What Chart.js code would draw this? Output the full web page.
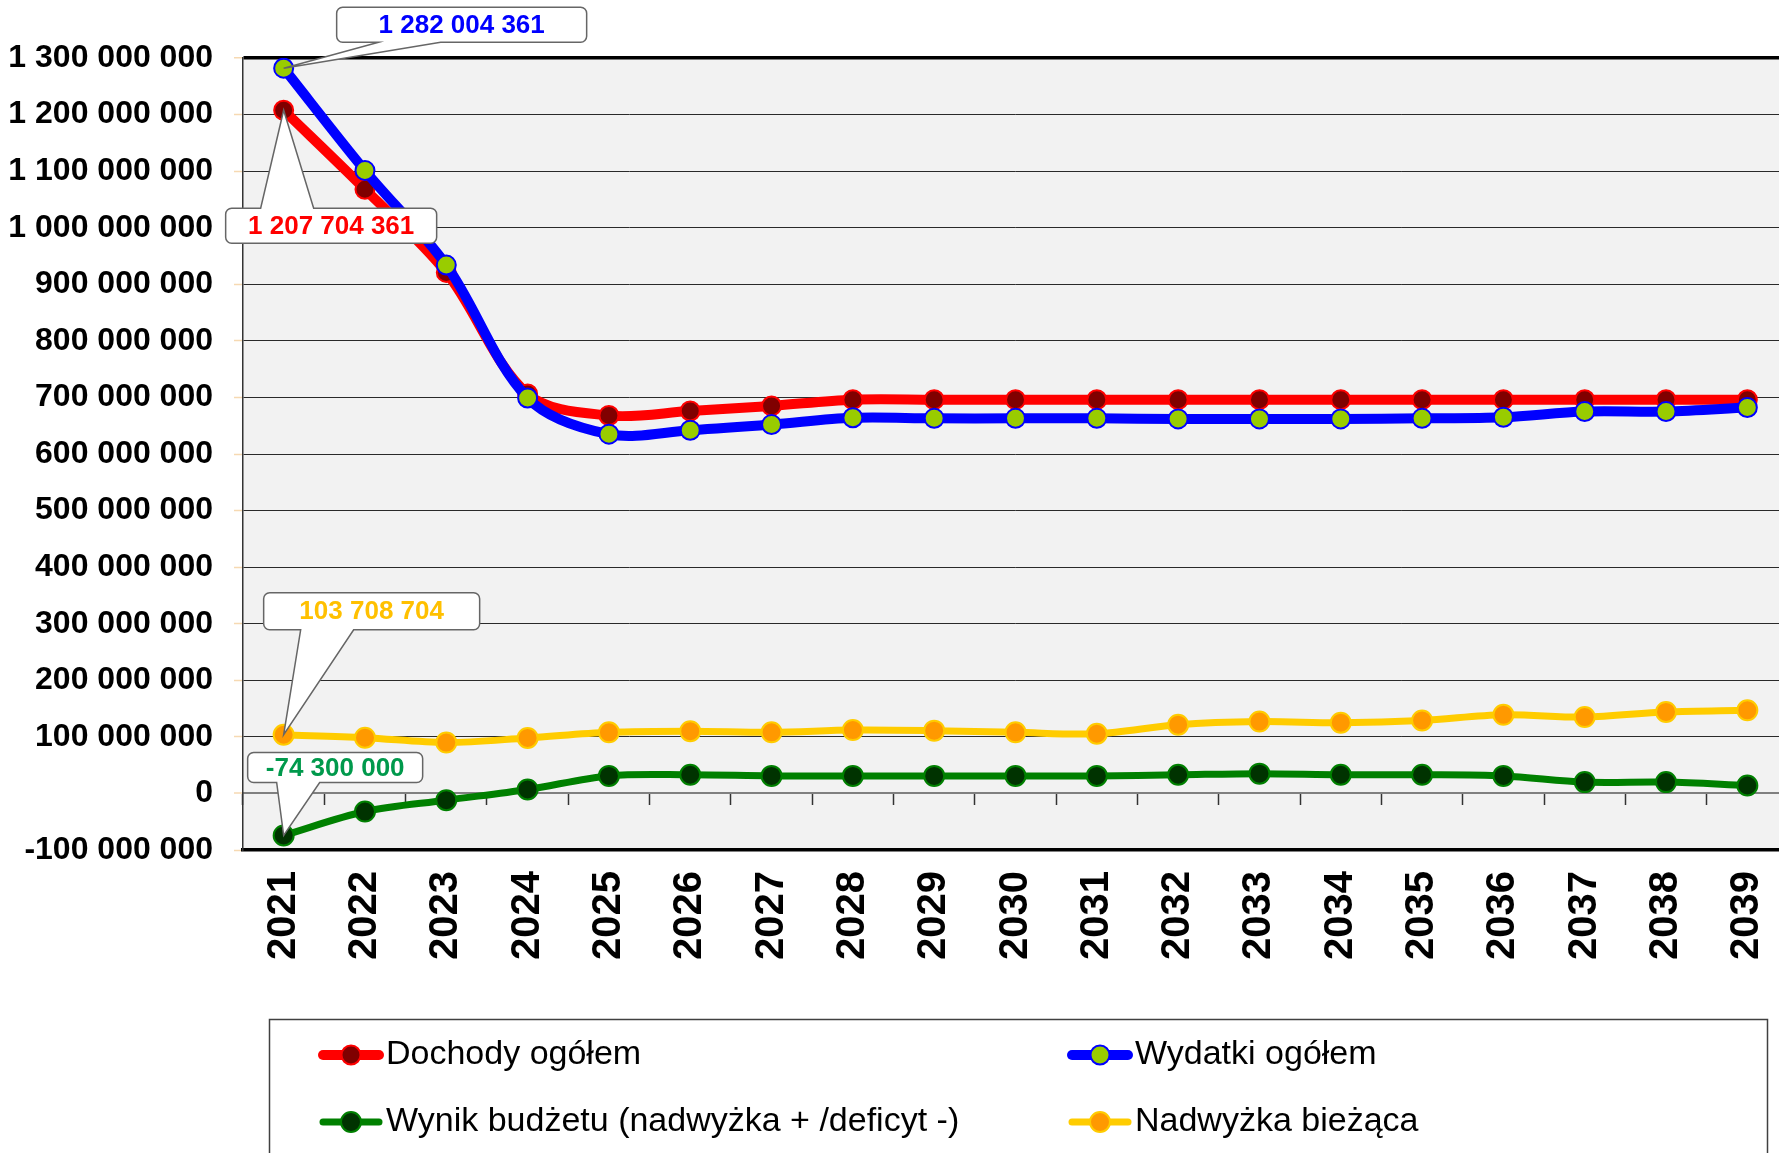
<!DOCTYPE html>
<html>
<head>
<meta charset="utf-8">
<title>Dochody i wydatki 2021-2039</title>
<script src="https://cdn.jsdelivr.net/npm/chart.js@4.4.1/dist/chart.umd.min.js"></script>
<style>
  html, body { margin: 0; padding: 0; background: #fff; overflow: hidden; }
  #chart { display: block; }
</style>
</head>
<body>
<canvas id="chart" width="1800" height="1153"></canvas>
<script>
const years = [
  "2021", "2022", "2023", "2024", "2025", "2026", "2027", "2028", "2029", "2030",
  "2031", "2032", "2033", "2034", "2035", "2036", "2037", "2038", "2039",
];

const dochody = [
  1207704361, 1068000000, 921000000, 706000000, 668000000, 676000000, 685000000,
  696000000, 696000000, 696000000, 696000000, 696000000, 696000000, 696000000,
  696000000, 696000000, 696000000, 696000000, 696000000,
];

const wydatki = [
  1282004361, 1101000000, 934000000, 699000000, 635000000, 642000000, 652000000,
  664000000, 663000000, 663000000, 663000000, 662000000, 662000000, 662000000,
  663000000, 665000000, 675000000, 675000000, 682000000,
];

const wynik = [
  -74300000, -32000000, -12000000, 7000000, 31000000, 33000000, 31000000,
  31000000, 31000000, 31000000, 31000000, 33000000, 35000000, 33000000,
  33000000, 31000000, 20000000, 20000000, 14000000,
];

const nadwyzka = [
  103708704, 98500000, 90000000, 98000000, 108000000, 110000000, 108000000,
  112000000, 111000000, 108000000, 105500000, 121500000, 127000000, 125000000,
  129000000, 139000000, 135000000, 144000000, 147000000,
];

const Y_MIN = -100000000;
const Y_MAX = 1300000000;
const Y_STEP = 100000000;

const FONT = "'Liberation Sans', Arial, sans-serif";
Chart.defaults.font.family = FONT;

function formatNum(v) {
  const s = Math.round(Math.abs(v)).toString().replace(/\B(?=(\d{3})+(?!\d))/g, " ");
  return (v < 0 ? "-" : "") + s;
}

// callout boxes for the first point of each series (offsets from the point)
const callouts = [
  { ds: 0, color: "#FF0000", dx: -58, dy: 98, w: 211, h: 35, side: "top", base: [35, 88] },
  { ds: 1, color: "#0000FF", dx: 53, dy: -61, w: 250, h: 35, side: "bottom", base: [42, 104] },
  { ds: 2, color: "#00994C", dx: -36, dy: -83, w: 175, h: 30, side: "bottom", base: [29, 72] },
  { ds: 3, color: "#FFC000", dx: -20, dy: -142, w: 216, h: 37, side: "bottom", base: [37, 90] },
];

// legend layout: [dataset index, symbol centre x, row y]
const legendSlots = [
  [0, 351, 1055],
  [1, 1100, 1055],
  [2, 351, 1122],
  [3, 1100, 1122],
];

const plotBackground = {
  id: "plotBackground",
  beforeDraw(chart) {
    const { ctx, chartArea: a } = chart;
    ctx.save();
    ctx.fillStyle = "#F2F2F2";
    ctx.fillRect(a.left, a.top, a.right - a.left, a.bottom - a.top);
    ctx.restore();
  },
};

function roundedCallout(ctx, x, y, w, h, r, side, b1, b2, ax, ay) {
  ctx.beginPath();
  ctx.moveTo(x + r, y);
  if (side === "top") {
    ctx.lineTo(x + b1, y);
    ctx.lineTo(ax, ay);
    ctx.lineTo(x + b2, y);
  }
  ctx.lineTo(x + w - r, y);
  ctx.arcTo(x + w, y, x + w, y + r, r);
  ctx.lineTo(x + w, y + h - r);
  ctx.arcTo(x + w, y + h, x + w - r, y + h, r);
  if (side === "bottom") {
    ctx.lineTo(x + b2, y + h);
    ctx.lineTo(ax, ay);
    ctx.lineTo(x + b1, y + h);
  }
  ctx.lineTo(x + r, y + h);
  ctx.arcTo(x, y + h, x, y + h - r, r);
  ctx.lineTo(x, y + r);
  ctx.arcTo(x, y, x + r, y, r);
  ctx.closePath();
}

const calloutPlugin = {
  id: "callouts",
  afterDatasetsDraw(chart) {
    const ctx = chart.ctx;
    ctx.save();
    callouts.forEach((c) => {
      const pt = chart.getDatasetMeta(c.ds).data[0];
      const value = chart.data.datasets[c.ds].data[0];
      const bx = pt.x + c.dx;
      const by = pt.y + c.dy;
      roundedCallout(ctx, bx, by, c.w, c.h, 6, c.side, c.base[0], c.base[1], pt.x, pt.y);
      ctx.fillStyle = "#FFFFFF";
      ctx.fill();
      ctx.lineWidth = 1.5;
      ctx.strokeStyle = "#666666";
      ctx.stroke();
      ctx.fillStyle = c.color;
      ctx.font = "bold 26px " + FONT;
      ctx.textAlign = "center";
      ctx.textBaseline = "middle";
      ctx.fillText(formatNum(value), bx + c.w / 2, by + c.h / 2 + 1);
    });
    ctx.restore();
  },
};

const legendPlugin = {
  id: "boxLegend",
  afterDraw(chart) {
    const ctx = chart.ctx;
    ctx.save();
    ctx.lineWidth = 1.5;
    ctx.strokeStyle = "#404040";
    ctx.strokeRect(269.5, 1019.5, 1498, 200);
    legendSlots.forEach(([i, cx, cy]) => {
      const ds = chart.data.datasets[i];
      ctx.beginPath();
      ctx.moveTo(cx - 28, cy);
      ctx.lineTo(cx + 28, cy);
      ctx.lineWidth = ds.borderWidth;
      ctx.strokeStyle = ds.borderColor;
      ctx.lineCap = "round";
      ctx.stroke();
      ctx.beginPath();
      ctx.arc(cx, cy, ds.pointRadius, 0, Math.PI * 2);
      ctx.fillStyle = ds.pointBackgroundColor;
      ctx.fill();
      ctx.lineWidth = ds.pointBorderWidth;
      ctx.strokeStyle = ds.pointBorderColor;
      ctx.stroke();
      ctx.fillStyle = "#000";
      ctx.font = "34px " + FONT;
      ctx.textAlign = "left";
      ctx.textBaseline = "middle";
      ctx.fillText(ds.label, cx + 35, cy);
    });
    ctx.restore();
  },
};

function series(label, data, line, fill, border, width, radius, order) {
  return {
    label,
    data,
    order,
    borderColor: line,
    borderWidth: width,
    pointBackgroundColor: fill,
    pointBorderColor: border,
    pointBorderWidth: 2,
    pointRadius: radius,
    pointHoverRadius: radius,
    tension: 0.33,
    fill: false,
  };
}

const ctx = document.getElementById("chart").getContext("2d");
const chart = new Chart(ctx, {
  type: "line",
  data: {
    labels: years,
    datasets: [
      series("Dochody ogółem", dochody, "#FF0000", "#800000", "#FF0000", 10, 9.5, 1),
      series("Wydatki ogółem", wydatki, "#0000FF", "#99CC00", "#0000FF", 10, 9.5, 0),
      series("Wynik budżetu (nadwyżka + /deficyt -)", wynik, "#008000", "#003300", "#008000", 7, 10, 2),
      series("Nadwyżka bieżąca", nadwyzka, "#FFCC00", "#FF9900", "#FFCC00", 7, 10, 3),
    ],
  },
  options: {
    responsive: false,
    animation: false,
    devicePixelRatio: 1,
    layout: { padding: { top: 58, left: 0, right: 9, bottom: 0 } },
    plugins: {
      legend: { display: false },
      tooltip: { enabled: false },
    },
    scales: {
      x: {
        offset: true,
        grid: { display: false },
        border: { color: "#000", width: 3.5 },
        ticks: {
          color: "#000",
          font: { size: 40, weight: "bold" },
          minRotation: 90,
          maxRotation: 90,
          padding: 13,
          autoSkip: false,
        },
        afterFit: (s) => {
          s.height = 303;
          s.paddingLeft = 0;
          s.paddingRight = 0;
        },
      },
      xZero: {
        axis: "x",
        type: "category",
        position: { y: 0 },
        offset: true,
        grid: {
          offset: true,
          drawOnChartArea: false,
          drawTicks: true,
          tickLength: 11,
          tickColor: "#333",
          tickWidth: 1.5,
        },
        border: { color: "#808080", width: 2 },
        ticks: { display: false },
        afterFit: (s) => {
          s.paddingLeft = 0;
          s.paddingRight = 0;
        },
      },
      y: {
        min: Y_MIN,
        max: Y_MAX,
        ticks: {
          stepSize: Y_STEP,
          color: "#000",
          font: { size: 32, weight: "bold" },
          padding: 21,
          callback: (v) => formatNum(v),
        },
        grid: {
          color: (c) => {
            const v = c.tick && c.tick.value;
            if (v === Y_MAX) return "#000";
            if (v === 0) return "#808080";
            if (v === Y_MIN) return "rgba(0,0,0,0)";
            return "#2a2a2a";
          },
          lineWidth: (c) => {
            const v = c.tick && c.tick.value;
            if (v === Y_MAX) return 3.5;
            if (v === 0) return 2;
            return 1;
          },
          tickColor: "#F6D9B2",
          tickLength: 9,
          tickWidth: 1.5,
        },
        border: { color: "#333", width: 1.5 },
        afterFit: (s) => { s.width = 243; },
      },
    },
  },
  plugins: [plotBackground, calloutPlugin, legendPlugin],
});
</script>
</body>
</html>
